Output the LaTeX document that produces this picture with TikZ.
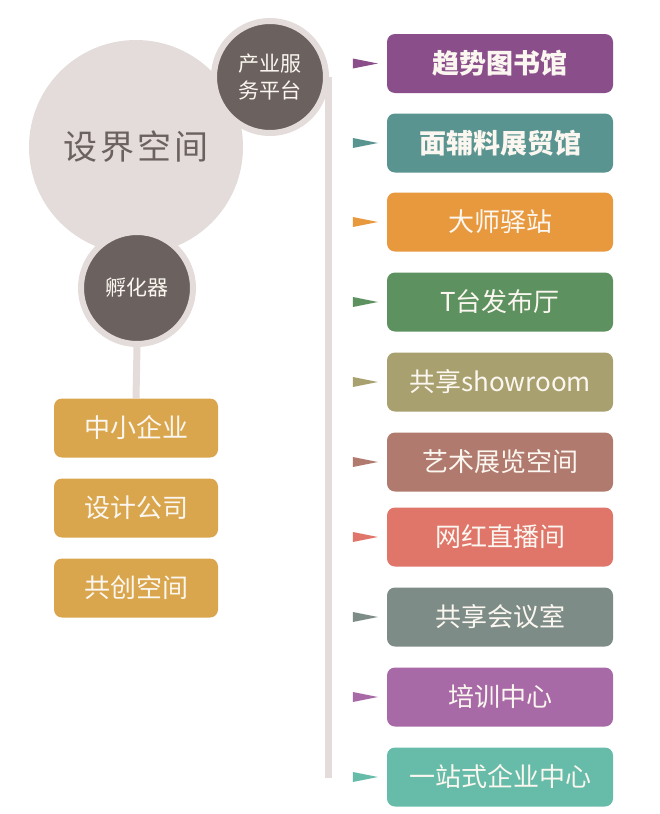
\documentclass[tikz,border=0pt]{standalone}
\usepackage{fontspec}
\setmainfont{Noto Sans CJK SC}
\usetikzlibrary{calc,backgrounds}
\definecolor{lightc}{HTML}{E3DCDA}
\definecolor{darkc}{HTML}{6B615E}
\definecolor{gold}{HTML}{D9A64E}
\definecolor{txtw}{HTML}{FBF7F0}
\definecolor{c1}{HTML}{8A4E8A}
\definecolor{c2}{HTML}{5A9490}
\definecolor{c3}{HTML}{E8993E}
\definecolor{c4}{HTML}{5E9160}
\definecolor{c5}{HTML}{A8A06E}
\definecolor{c6}{HTML}{B07A6E}
\definecolor{c7}{HTML}{E0756A}
\definecolor{c8}{HTML}{7E8C88}
\definecolor{c9}{HTML}{A86AA6}
\definecolor{c10}{HTML}{66BCA8}
\tikzset{
  rbox/.style={rectangle, rounded corners=8pt, minimum width=226pt, minimum height=59pt, inner sep=0pt, text=txtw, font=\fontsize{26}{30}\selectfont},
  lbox/.style={rectangle, rounded corners=8pt, fill=gold, minimum width=164pt, minimum height=59pt, inner sep=0pt, text=txtw, font=\fontsize{26}{30}\selectfont},
  dcirc/.style={circle, fill=darkc, draw=lightc, line width=6pt, inner sep=0pt, text=txtw, align=center, font=\fontsize{21}{27}\selectfont},
  trunk/.style={draw=lightc, line width=7pt},
}
\newcommand{\pointer}[2]{\fill[#2] ($(#1.west)+(-9,0)$) -- ++(-25,5) -- ++(0,-10) -- cycle;}
\begin{document}
\begin{tikzpicture}[x=1pt,y=-1pt]
\useasboundingbox (0,0) rectangle (660,814);
\coordinate (tend) at (327,778);
\node[circle, fill=lightc, minimum size=214pt, inner sep=0pt, text=darkc, font=\fontsize{34}{38}\selectfont] (main) at (136,147) {设\kern3pt 界\kern3pt 空\kern3pt 间};
\node[dcirc, minimum size=112pt] (svc) at (270,77) {产业服\\务平台};
% left
\node[lbox] (l1) at (136,428) {中小企业};
\node[lbox] (l2) at (136,508) {设计公司};
\node[lbox] (l3) at (136,588) {共创空间};
\node[dcirc, minimum size=112pt] (inc) at (137,288) {孵化器};
\begin{pgfonlayer}{background}
\fill[white] (0,0) rectangle (660,814);
\draw[trunk] ($(svc.east)+(-1,0)$) coordinate (tstart) -- (tstart |- tend);
\draw[trunk] (inc.south) -- (l1.north);
\end{pgfonlayer}
% right
\node[rbox, fill=c1, font=\fontsize{27}{30}\selectfont\bfseries] (r1) at (500,63.5) {趋势图书馆};
\node[rbox, fill=c2, font=\fontsize{27}{30}\selectfont\bfseries] (r2) at (500,143) {面辅料展贸馆};
\node[rbox, fill=c3] (r3) at (500,222) {大师驿站};
\node[rbox, fill=c4] (r4) at (500,302) {T台发布厅};
\node[rbox, fill=c5] (r5) at (500,382) {共享showroom};
\node[rbox, fill=c6] (r6) at (500,462) {艺术展览空间};
\node[rbox, fill=c7] (r7) at (500,537) {网红直播间};
\node[rbox, fill=c8] (r8) at (500,617) {共享会议室};
\node[rbox, fill=c9] (r9) at (500,697) {培训中心};
\node[rbox, fill=c10] (r10) at (500,777) {一站式企业中心};
\pointer{r1}{c1}
\pointer{r2}{c2}
\pointer{r3}{c3}
\pointer{r4}{c4}
\pointer{r5}{c5}
\pointer{r6}{c6}
\pointer{r7}{c7}
\pointer{r8}{c8}
\pointer{r9}{c9}
\pointer{r10}{c10}
\end{tikzpicture}
\end{document}
